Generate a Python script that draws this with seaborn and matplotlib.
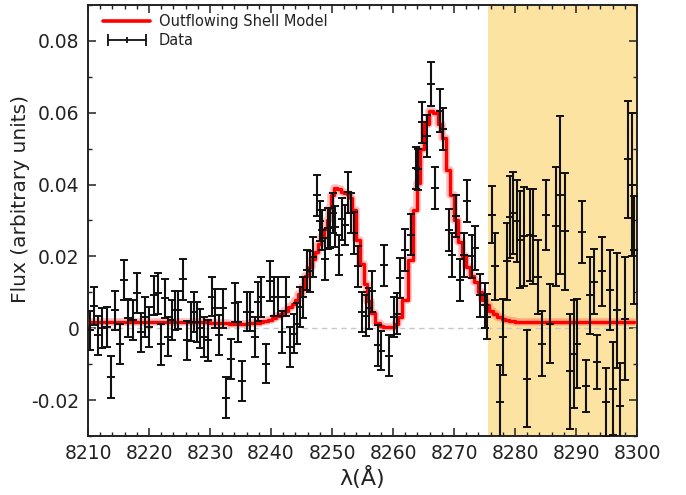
import numpy as np
import matplotlib
matplotlib.use("Agg")
import matplotlib.pyplot as plt
from matplotlib.lines import Line2D
from matplotlib.legend_handler import HandlerLine2D, HandlerTuple
from matplotlib.ticker import MultipleLocator, FixedLocator
import seaborn as sns

# ---- observed spectrum (wavelength in Angstrom, flux, 1-sigma error) ----
wave = [
    8210.3, 8211.0, 8211.7, 8212.3, 8213.1, 8213.8, 8214.5, 8215.2, 8215.9, 8216.6,
    8217.3, 8218.0, 8218.7, 8219.3, 8220.0, 8220.8, 8221.4,
    8222.0, 8222.6, 8223.1, 8223.7, 8224.3, 8224.8, 8225.6, 8226.3, 8226.9, 8227.4,
    8227.9, 8228.4, 8229.0, 8229.6, 8230.3, 8230.8, 8231.4, 8232.2, 8232.7,
    8233.4, 8234.1, 8234.6, 8235.3, 8236.0, 8236.6, 8237.3, 8237.9, 8238.4, 8239.1,
    8239.8, 8240.5, 8241.1, 8241.8, 8242.4, 8243.1, 8243.7, 8244.2,
    8244.8, 8245.3, 8245.9, 8246.4, 8246.9, 8247.5, 8248.0, 8248.4, 8248.9, 8249.3,
    8249.7, 8250.1, 8250.5, 8251.1, 8251.7, 8252.1, 8252.7, 8253.1, 8253.6, 8254.3,
    8254.9, 8255.5, 8256.1, 8256.6, 8257.6, 8258.1, 8258.6, 8259.3, 8260.1, 8260.6,
    8261.1, 8261.9, 8263.0, 8263.7, 8264.1, 8264.8, 8265.5, 8266.3, 8266.9, 8267.7,
    8268.2, 8269.1, 8269.6, 8270.3, 8271.0, 8271.7, 8272.2, 8272.9, 8273.5, 8274.3,
    8275.0, 8275.4,
    8276.2, 8276.7, 8277.5, 8278.1, 8278.7, 8279.2, 8279.6, 8280.3, 8280.8, 8281.4,
    8281.9, 8282.5, 8283.0, 8283.7, 8284.4, 8285.1, 8285.7, 8286.8, 8287.4, 8288.2,
    8289.0, 8289.6, 8290.1, 8290.9, 8291.6, 8292.3, 8293.0, 8293.5, 8294.2, 8294.9,
    8295.6, 8296.1, 8296.7, 8297.2, 8298.0, 8298.6, 8299.1, 8299.5,
]

flux = [
    -0.0006, 0.0062, -0.0020, 0.0000, 0.0003, -0.0136, 0.0050, -0.0043, 0.0134, 0.0028,
    0.0022, 0.0098, -0.0011, 0.0031, 0.0003, 0.0092, 0.0097,
    -0.0045, 0.0083, -0.0024, 0.0022, 0.0050, 0.0050, 0.0136, -0.0034, 0.0018, 0.0046,
    0.0018, 0.0000, -0.0024, -0.0034, 0.0088, 0.0055, -0.0018, 0.0055, -0.0194,
    -0.0085, 0.0071, 0.0018, -0.0146, 0.0046, 0.0046, -0.0024, 0.0074, 0.0088, -0.0099,
    0.0132, 0.0088, 0.0088, -0.0010, 0.0088, -0.0052, -0.0015, 0.0013,
    0.0060, 0.0086, 0.0162, 0.0158, 0.0198, 0.0370, 0.0298, 0.0274, 0.0193, 0.0279,
    0.0279, 0.0321, 0.0283, 0.0204, 0.0304, 0.0288, 0.0379, 0.0321, 0.0265, 0.0172,
    0.0045, 0.0035, 0.0055, 0.0103, -0.0048, -0.0062, 0.0176, -0.0076, 0.0032, 0.0041,
    0.0139, 0.0218, 0.0260, 0.0447, 0.0442, 0.0573, 0.0536, 0.0680, 0.0391, 0.0606,
    0.0554, 0.0274, 0.0204, 0.0312, 0.0134, 0.0204, 0.0354, 0.0200, 0.0223, 0.0092,
    0.0064, 0.0032,
    0.0316, 0.0172, -0.0206, -0.0024, 0.0186, 0.0310, 0.0321, 0.0298, 0.0246, 0.0256,
    -0.0141, 0.0260, 0.0256, 0.0144, -0.0043, 0.0316, 0.0013, 0.0284, 0.0372, 0.0270,
    -0.0120, -0.0071, -0.0043, 0.0267, -0.0160, 0.0092, 0.0130, -0.0094, 0.0158, -0.0206,
    0.0106, -0.0168, 0.0050, -0.0216, 0.0027, 0.0470, 0.0400, 0.0218,
]

flux_err = [
    0.0055, 0.0052, 0.0054, 0.0056, 0.0055, 0.0058, 0.0054, 0.0056, 0.0055, 0.0053,
    0.0056, 0.0055, 0.0054, 0.0056, 0.0055, 0.0054, 0.0056,
    0.0056, 0.0055, 0.0054, 0.0056, 0.0055, 0.0053, 0.0056, 0.0055, 0.0054, 0.0056,
    0.0055, 0.0054, 0.0055, 0.0056, 0.0054, 0.0055, 0.0056, 0.0055, 0.0057,
    0.0056, 0.0054, 0.0055, 0.0056, 0.0055, 0.0054, 0.0056, 0.0055, 0.0056, 0.0054,
    0.0056, 0.0055, 0.0054, 0.0058, 0.0055, 0.0056, 0.0055, 0.0056,
    0.0056, 0.0057, 0.0055, 0.0058, 0.0056, 0.0057, 0.0056, 0.0055, 0.0058, 0.0057,
    0.0056, 0.0055, 0.0057, 0.0056, 0.0058, 0.0056, 0.0057, 0.0056, 0.0058, 0.0057,
    0.0056, 0.0057, 0.0058, 0.0057, 0.0056, 0.0055, 0.0057, 0.0056, 0.0055, 0.0057,
    0.0056, 0.0058, 0.0057, 0.0058, 0.0057, 0.0058, 0.0059, 0.0060, 0.0058, 0.0060,
    0.0059, 0.0058, 0.0060, 0.0059, 0.0058, 0.0060, 0.0059, 0.0060, 0.0061, 0.0060,
    0.0062, 0.0063,
    0.0080, 0.0093, 0.0105, 0.0105, 0.0107, 0.0115, 0.0114, 0.0114, 0.0135, 0.0137,
    0.0135, 0.0128, 0.0133, 0.0103, 0.0091, 0.0098, 0.0110, 0.0166, 0.0220, 0.0163,
    0.0160, 0.0150, 0.0124, 0.0086, 0.0072, 0.0107, 0.0090, 0.0075, 0.0096, 0.0096,
    0.0112, 0.0130, 0.0160, 0.0120, 0.0172, 0.0163, 0.0200, 0.0150,
]

# ---- outflowing shell model evaluated on the same wavelength bins ----
model_flux = [
    0.0017, 0.0017, 0.0017, 0.0017, 0.0017, 0.0017, 0.0017, 0.0017, 0.0017, 0.0017,
    0.0017, 0.0017, 0.0017, 0.0017, 0.0017, 0.0017, 0.0017,
    0.0017, 0.0017, 0.0017, 0.0017, 0.0017, 0.0017, 0.0017, 0.0017, 0.0017, 0.0017,
    0.0017, 0.0017, 0.0017, 0.0017, 0.0016, 0.0016, 0.0015, 0.0015, 0.0014,
    0.0013, 0.0013, 0.0013, 0.0013, 0.0013, 0.0014, 0.0014, 0.0015, 0.0017, 0.0019,
    0.0023, 0.0028, 0.0034, 0.0040, 0.0047, 0.0058, 0.0068, 0.0080,
    0.0095, 0.0115, 0.0145, 0.0170, 0.0192, 0.0212, 0.0235, 0.0255, 0.0275, 0.0300,
    0.0335, 0.0370, 0.0390, 0.0388, 0.0380, 0.0377, 0.0375, 0.0362, 0.0330, 0.0245,
    0.0180, 0.0122, 0.0075, 0.0042, 0.0014, 0.0006, 0.0003, 0.0003, 0.0004, 0.0012,
    0.0032, 0.0080, 0.0190, 0.0330, 0.0405, 0.0500, 0.0570, 0.0605, 0.0598, 0.0568,
    0.0530, 0.0440, 0.0370, 0.0300, 0.0240, 0.0200, 0.0170, 0.0145, 0.0128, 0.0102,
    0.0078, 0.0064,
    0.0048, 0.0040, 0.0032, 0.0027, 0.0023, 0.0021, 0.0019, 0.0018, 0.0017, 0.0017,
    0.0017, 0.0017, 0.0017, 0.0017, 0.0017, 0.0017, 0.0017, 0.0017, 0.0017, 0.0017,
    0.0017, 0.0017, 0.0017, 0.0017, 0.0017, 0.0017, 0.0017, 0.0017, 0.0017, 0.0017,
    0.0017, 0.0017, 0.0017, 0.0017, 0.0017, 0.0017, 0.0017, 0.0017,
]

# masked (sky-contaminated) wavelength window
mask_range = (8275.5, 8300.0)

x_ticks = [8210, 8220, 8230, 8240, 8250, 8260, 8270, 8280, 8290, 8300]
y_ticks = [-0.02, 0.0, 0.02, 0.04, 0.06, 0.08]
y_tick_labels = ["-0.02", "0", "0.02", "0.04", "0.06", "0.08"]

# ---- styling ----
sns.set_theme(style="ticks")
plt.rcParams["font.family"] = ["DejaVu Sans"]
plt.rcParams.update({
    "xtick.direction": "in",
    "ytick.direction": "in",
    "xtick.top": True,
    "ytick.right": True,
    "axes.edgecolor": "#222222",
    "axes.linewidth": 1.4,
})

fig = plt.figure(figsize=(6.86, 4.95), dpi=100)
ax = fig.add_axes([0.1283, 0.1192, 0.8003, 0.8707])

ax.axvspan(*mask_range, color="#fde3a2", zorder=0, lw=0)
ax.axhline(0.0, color="#c8c8c8", lw=1.0, ls=(0, (4, 3)), zorder=1)

# model: soft halo plus step line
sns.lineplot(x=wave, y=model_flux, ax=ax, color="#ff3030", lw=5.5, alpha=0.3,
             drawstyle="steps-mid", estimator=None, sort=False, zorder=3, legend=False)
sns.lineplot(x=wave, y=model_flux, ax=ax, color="#ff0000", lw=2.4,
             drawstyle="steps-mid", estimator=None, sort=False, zorder=4, legend=False)

ax.errorbar(wave, flux, yerr=flux_err, fmt="+", color="#111111", ms=5.5, mew=1.4,
            elinewidth=1.5, capsize=2.8, capthick=1.5, zorder=5)

ax.set_xlim(8210, 8300)
ax.set_ylim(-0.03, 0.09)
ax.xaxis.set_major_locator(FixedLocator(x_ticks))
ax.xaxis.set_minor_locator(MultipleLocator(2))
ax.yaxis.set_major_locator(FixedLocator(y_ticks))
ax.set_yticklabels(y_tick_labels)
ax.yaxis.set_minor_locator(MultipleLocator(0.01))
ax.tick_params(which="major", length=6, width=1.1, labelsize=13.5, colors="#222222", pad=6)
ax.tick_params(which="minor", length=3, width=1.0, colors="#222222")

ax.set_xlabel("λ(Å)", fontsize=16, color="#222222", labelpad=2)
ax.set_ylabel("Flux (arbitrary units)", fontsize=14.5, color="#222222")
ax.yaxis.set_label_coords(-0.105, 0.55)

# legend handles
model_handle = Line2D([], [], color="#ff0000", lw=2.6)
bar_handle = Line2D([], [], color="#111111", lw=1.3, marker="|", ms=9, mew=1.3)
mid_handle = Line2D([], [], color="#111111", ls="none", marker="|", ms=5, mew=1.3)
ax.legend([model_handle, (bar_handle, mid_handle)],
          ["Outflowing Shell Model", "Data"],
          handler_map={bar_handle: HandlerLine2D(numpoints=2),
                       mid_handle: HandlerLine2D(numpoints=1),
                       tuple: HandlerTuple(ndivide=1)},
          loc="upper left", frameon=False, fontsize=10.5, handlelength=3.2,
          borderaxespad=0.3, borderpad=0.3, labelspacing=0.3, handletextpad=0.6,
          labelcolor="#222222", bbox_to_anchor=(0.012, 1.0))

fig.savefig("out.png", dpi=100)
